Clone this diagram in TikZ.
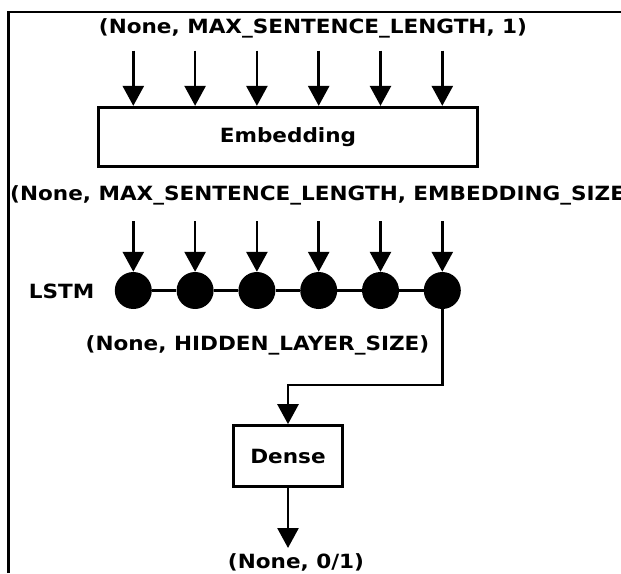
\documentclass[tikz,border=0pt]{standalone}
\usepackage{fontspec}
\newfontfamily\labfont[FakeStretch=1.1]{DejaVu Sans}
\usetikzlibrary{arrows.meta}
\begin{document}
\begin{tikzpicture}[x=1pt,y=-1pt,
  lab/.style={font=\labfont\bfseries\fontsize{19.6}{22}\selectfont, inner sep=0pt},
  box/.style={draw, line width=2.7pt, lab},
  arr/.style={line width=2.7pt, -{Triangle[width=21pt,length=20pt]}},
  cell/.style={circle, fill=black, minimum size=37pt, inner sep=0pt},
  link/.style={line width=2.7pt}]
\useasboundingbox (0,0) rectangle (621,573);
% frame
\draw[line width=2.2pt] (8.5,573) -- (8.5,12) -- (621,12);
% top label and embedding
\node[lab] (inlab) at (313,28) {(None, MAX\_SENTENCE\_LENGTH, 1)};
\node[box, minimum width=379pt, minimum height=59pt] (emb) at (288,136.7) {Embedding};
\foreach \i/\x in {1/133.3,2/195.1,3/256.9,4/318.7,5/380.5,6/442.3}{
  \coordinate (t\i) at (\x,50.7);
  \draw[arr] (t\i) -- (t\i |- emb.north);
}
% second label
\node[lab, anchor=west] (emblab) at (10,195) {(None, MAX\_SENTENCE\_LENGTH, EMBEDDING\_SIZE)};
% LSTM cells
\node[lab] (lstm) at (61.7,291.7) {LSTM};
\foreach \i/\x in {1/133.3,2/195.1,3/256.9,4/318.7,5/380.5,6/442.3}{
  \node[cell] (c\i) at (\x,290.5) {};
  \coordinate (s\i) at (\x,221);
  \draw[arr] (s\i) -- (c\i);
}
\foreach \i/\j in {1/2,2/3,3/4,4/5,5/6}{
  \draw[link] (c\i) -- (c\j);
}
\node[lab] (hidlab) at (257.5,345) {(None, HIDDEN\_LAYER\_SIZE)};
% dense
\node[box, minimum width=109pt, minimum height=61pt] (dense) at (288,456) {Dense};
\coordinate (bend) at (442.3,385);
\draw[arr] (c6) -- (bend) -| (dense.north);
\coordinate (outtip) at (288,548);
\draw[arr] (dense) -- (outtip);
\node[lab] (outlab) at (296,562) {(None, 0/1)};
\end{tikzpicture}
\end{document}
